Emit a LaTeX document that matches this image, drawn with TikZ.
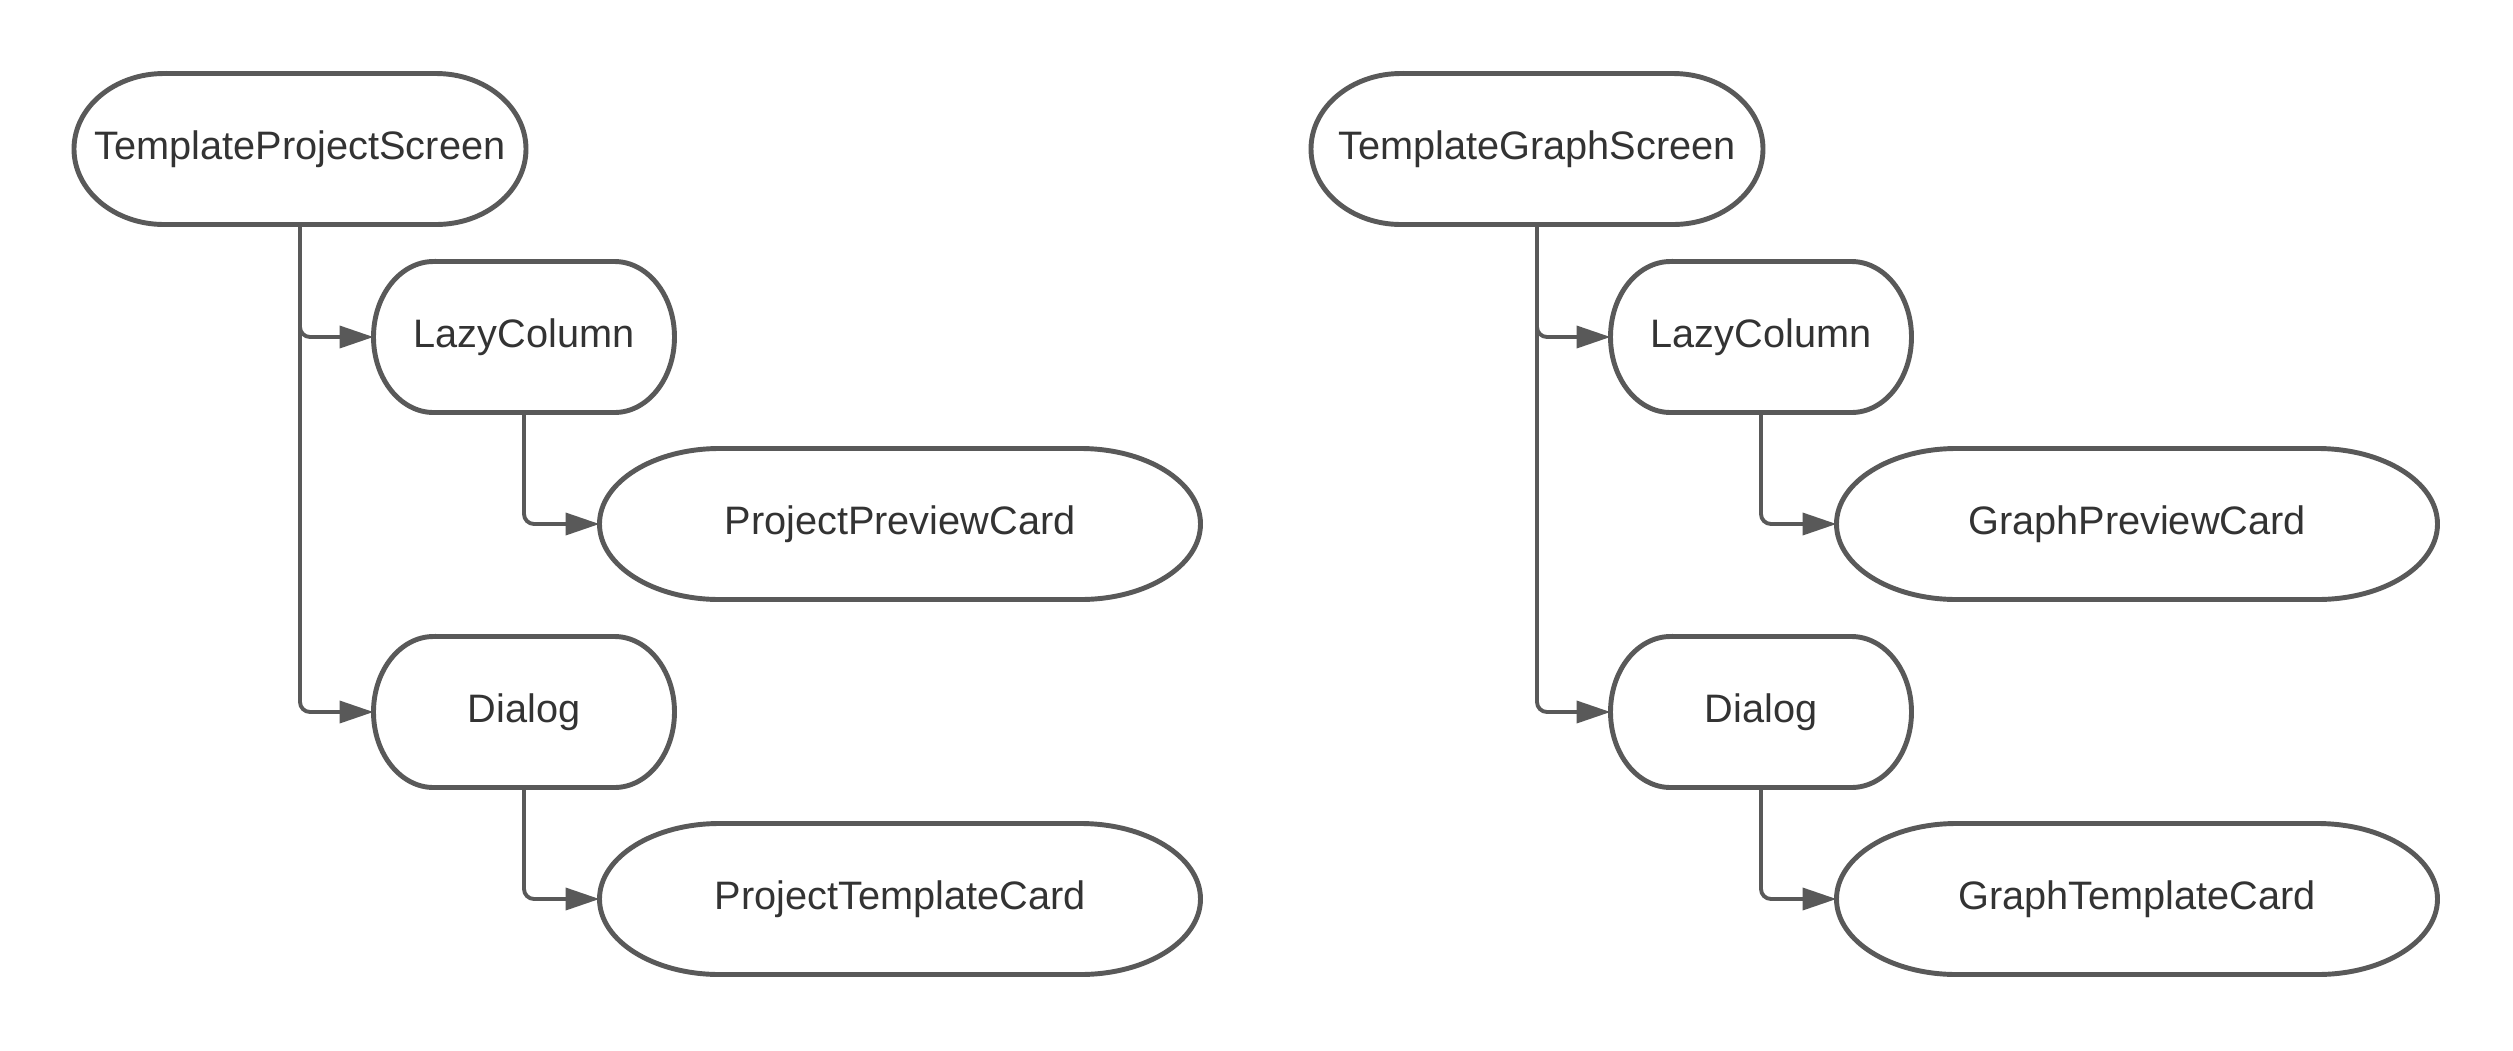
\documentclass[tikz,border=0pt]{standalone}
\usepackage{fontspec}
\setmainfont{Liberation Sans}
\usetikzlibrary{arrows.meta,calc}

\definecolor{edgegray}{HTML}{595959}
\definecolor{textgray}{HTML}{333333}

\tikzset{
  term/.style={rectangle, minimum height=1.51cm, inner sep=0pt, outer sep=0pt,
    text=textgray, font=\fontsize{11.3}{14}\selectfont},
  termedge/.style={draw=edgegray, line width=1.4pt},
  link/.style={draw=edgegray, line width=1.1pt, rounded corners=0.1cm,
    -{Triangle[length=0.34cm, width=0.22cm]}}
}

% outline of a terminator node: #1 node, #2 x radius of the ends
\newcommand{\termline}[2]{%
  \draw[termedge] ($(#1.north west)+(#2,0)$) -- ($(#1.north east)-(#2,0)$)
    arc[start angle=90, end angle=-90, x radius=#2, y radius=0.755cm]
    -- ($(#1.south west)+(#2,0)$)
    arc[start angle=270, end angle=90, x radius=#2, y radius=0.755cm] -- cycle;}

\begin{document}
\begin{tikzpicture}
\useasboundingbox (0,0) rectangle (25.13,-10.5);

\node[term, minimum width=4.52cm](tps) at (3.00,-1.49){\raisebox{0.05cm}{TemplateProjectScreen}};
\node[term, minimum width=3.01cm](lc1) at (5.24,-3.37){\raisebox{0.05cm}{LazyColumn}};
\node[term, minimum width=6.01cm](ppc) at (9.00,-5.24){\raisebox{0.05cm}{ProjectPreviewCard}};
\node[term, minimum width=3.01cm](dlg1) at (5.24,-7.12){\raisebox{0.05cm}{Dialog}};
\node[term, minimum width=6.01cm](ptc) at (9.00,-8.99){\raisebox{0.05cm}{ProjectTemplateCard}};

\node[term, minimum width=4.52cm](tgs) at (15.37,-1.49){\raisebox{0.05cm}{TemplateGraphScreen}};
\node[term, minimum width=3.01cm](lc2) at (17.61,-3.37){\raisebox{0.05cm}{LazyColumn}};
\node[term, minimum width=6.01cm](gpc) at (21.37,-5.24){\raisebox{0.05cm}{GraphPreviewCard}};
\node[term, minimum width=3.01cm](dlg2) at (17.61,-7.12){\raisebox{0.05cm}{Dialog}};
\node[term, minimum width=6.01cm](gtc) at (21.37,-8.99){\raisebox{0.05cm}{GraphTemplateCard}};

\termline{tps}{0.9cm}
\termline{lc1}{0.6cm}
\termline{ppc}{1.2cm}
\termline{dlg1}{0.6cm}
\termline{ptc}{1.2cm}
\termline{tgs}{0.9cm}
\termline{lc2}{0.6cm}
\termline{gpc}{1.2cm}
\termline{dlg2}{0.6cm}
\termline{gtc}{1.2cm}

\draw[link] (tps.south) |- (lc1.west);
\draw[link] (tps.south) |- (dlg1.west);
\draw[link] (lc1.south) |- (ppc.west);
\draw[link] (dlg1.south) |- (ptc.west);

\draw[link] (tgs.south) |- (lc2.west);
\draw[link] (tgs.south) |- (dlg2.west);
\draw[link] (lc2.south) |- (gpc.west);
\draw[link] (dlg2.south) |- (gtc.west);
\end{tikzpicture}
\end{document}
